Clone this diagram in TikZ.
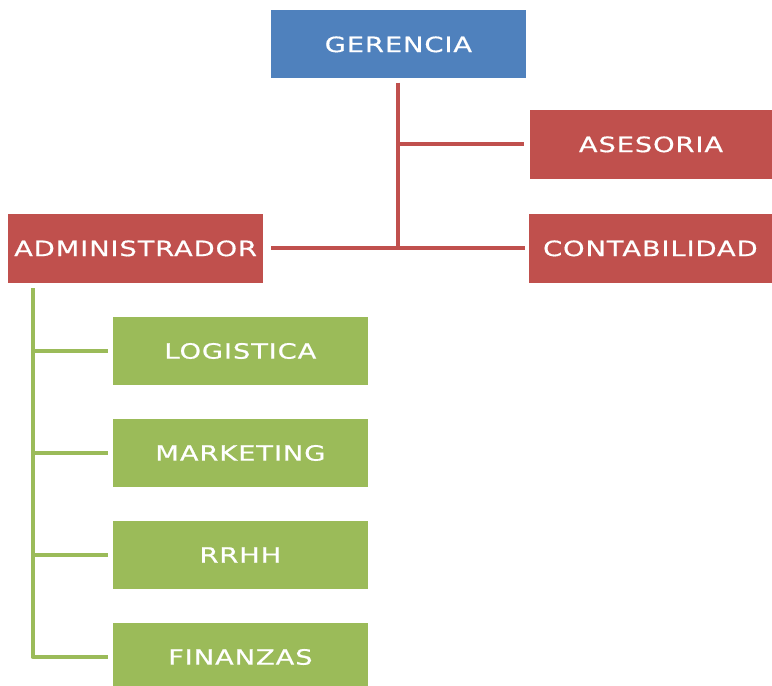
\documentclass[tikz,border=0pt]{standalone}
\usepackage{fontspec}
\setmainfont{DejaVu Sans}
\newfontfamily\boxfont[FakeStretch=1.3,LetterSpace=4,FakeBold=0.6]{DejaVu Sans}
\usetikzlibrary{positioning,calc}
\definecolor{gblue}{HTML}{4F81BD}
\definecolor{gred}{HTML}{C0504D}
\definecolor{ggreen}{HTML}{9BBB59}
\tikzset{
  orgbox/.style  = { rectangle, minimum width=6.375cm, minimum height=1.7cm,
    inner sep=0pt, text=white, font=\boxfont\fontsize{15}{17}\selectfont },
  bluebox/.style = { orgbox, fill=gblue },
  redbox/.style  = { orgbox, fill=gred, minimum height=1.725cm },
  greenbox/.style= { orgbox, fill=ggreen },
  redln/.style   = { draw=gred, line width=0.1cm },
  greenln/.style = { draw=ggreen, line width=0.11cm }
}

\begin{document}
\begin{tikzpicture}[on grid,node distance=2.55cm]
    \useasboundingbox (0,0) rectangle (19.3,-17.15);
    % cabecera
    \node[bluebox] (ger) at (9.96,-1.11) {GERENCIA};
    \node[redbox, minimum width=6.05cm] (ase) at (16.275,-3.61) {ASESORIA};
    \node[redbox, minimum width=6.075cm] (con) at (16.26,-6.21) {CONTABILIDAD};
    \node[redbox] (adm) at (3.39,-6.21) {ADMINISTRADOR};
    % areas del administrador
    \node[greenbox, below right=2.565cm and 2.62cm of adm] (log) {LOGISTICA};
    \node[greenbox, below=of log] (mar) {MARKETING};
    \node[greenbox, below=of mar] (rrhh) {RRHH};
    \node[greenbox, below=of rrhh] (fin) {FINANZAS};
    \coordinate (jn) at (ger.south |- adm.east);
    \coordinate (gt) at ([xshift=0.625cm]adm.south west);
    \path[redln] ([yshift=-0.1cm]ger.south) -- (jn);
    \path[redln, shorten <=0.2cm, shorten >=0.1cm] (adm.east) -- (con.west);
    \path[redln, shorten >=0.15cm] (ger.south |- ase.west) -- (ase.west);
    \path[greenln, line join=round, shorten >=0.125cm] ([yshift=-0.125cm]gt) -- (gt |- fin.west) -- (fin.west);
    \foreach \n in {log,mar,rrhh}
      \path[greenln, shorten >=0.125cm] (gt |- \n.west) -- (\n.west);
\end{tikzpicture}
\end{document}
